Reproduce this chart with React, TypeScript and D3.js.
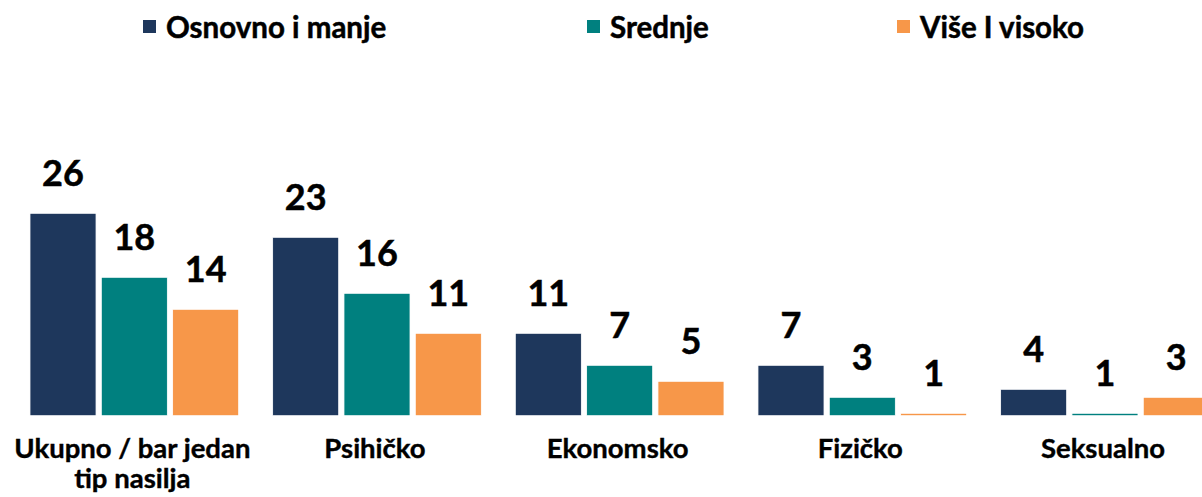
import React, { useRef, useEffect } from 'react';
import * as d3 from 'd3';

const categories = ['Ukupno / bar jedan tip nasilja', 'Psihičko', 'Ekonomsko', 'Fizičko', 'Seksualno'];
const series = ['Osnovno i manje', 'Srednje', 'Više I visoko'];
const osnovno = [26, 23, 11, 7, 4];
const srednje = [18, 16, 7, 3, 1];
const visoko = [14, 11, 5, 1, 3];
const colors = ['#1e375c', '#00807f', '#f79749'];

export default function App() {
    const ref = useRef<SVGSVGElement>(null);

    useEffect(() => {
        const svg = d3.select(ref.current);
        svg.selectAll('*').remove();

        const width = 1202;
        const height = 497;
        const baseline = 415.7;
        const font = 'Lato, "Open Sans", sans-serif';

        const values = [osnovno, srednje, visoko];
        const rows = categories.map((c, i) => ({
            category: c,
            items: series.map((s, j) => ({ series: s, value: values[j][i], color: colors[j] })),
        }));

        // group bands, the last group runs past the right edge like in the original
        const x0 = d3.scaleBand()
            .domain(categories)
            .range([13, 1226.3])
            .paddingInner(0.14)
            .paddingOuter(0.07);

        const x1 = d3.scaleBand()
            .domain(series)
            .range([0, x0.bandwidth()])
            .paddingInner(0.074);

        // axis minimum is slightly above zero
        const y = d3.scaleLinear()
            .domain([0.7, 40])
            .range([baseline, baseline - 8 * 39.3]);

        svg.attr('width', width).attr('height', height);

        const groups = svg.append('g')
            .selectAll('g')
            .data(rows)
            .join('g')
            .attr('transform', d => `translate(${x0(d.category)}, 0)`);

        groups.selectAll('rect')
            .data(d => d.items)
            .join('rect')
            .attr('x', d => x1(d.series)!)
            .attr('y', d => y(d.value))
            .attr('width', x1.bandwidth())
            .attr('height', d => baseline - y(d.value))
            .attr('fill', d => d.color)
            .attr('stroke', '#ffffff')
            .attr('stroke-width', 0.8);

        // value labels above bars
        groups.selectAll('text.value')
            .data(d => d.items)
            .join('text')
            .attr('class', 'value')
            .attr('x', d => x1(d.series)! + x1.bandwidth() / 2)
            .attr('y', d => y(d.value) - 27)
            .attr('text-anchor', 'middle')
            .attr('font-family', font)
            .attr('font-weight', 700)
            .attr('font-size', 36)
            .attr('fill', '#000')
            .attr('stroke', '#000')
            .attr('stroke-width', 0.5)
            .text(d => d.value);

        // category labels, first one wraps on two lines
        const wrap: Record<string, string[]> = {
            'Ukupno / bar jedan tip nasilja': ['Ukupno / bar jedan', 'tip nasilja'],
        };
        const catText = groups.append('text')
            .attr('text-anchor', 'middle')
            .attr('font-family', font)
            .attr('font-weight', 700)
            .attr('font-size', 27.5)
            .attr('fill', '#000')
            .attr('stroke', '#000')
            .attr('stroke-width', 0.4);
        catText.selectAll('tspan')
            .data(d => (wrap[d.category] || [d.category]).map(line => ({ line, cx: x0.bandwidth() / 2 - 2 })))
            .join('tspan')
            .attr('x', d => d.cx)
            .attr('y', (d, i) => 458 + i * 30)
            .text(d => d.line);

        // legend
        const legendX = [143, 587, 897];
        const legend = svg.append('g')
            .selectAll('g')
            .data(series)
            .join('g')
            .attr('transform', (d, i) => `translate(${legendX[i]}, 0)`);
        legend.append('rect')
            .attr('x', 0)
            .attr('y', 20)
            .attr('width', 13)
            .attr('height', 13)
            .attr('fill', (d, i) => colors[i]);
        legend.append('text')
            .attr('x', 23)
            .attr('y', 38)
            .attr('font-family', font)
            .attr('font-weight', 700)
            .attr('font-size', 29.5)
            .attr('fill', '#000')
            .attr('stroke', '#000')
            .attr('stroke-width', 0.5)
            .text(d => d);
    }, []);

    return <svg ref={ref} style={{ position: 'fixed', left: 0, top: 0, background: '#fff' }} />;
}
